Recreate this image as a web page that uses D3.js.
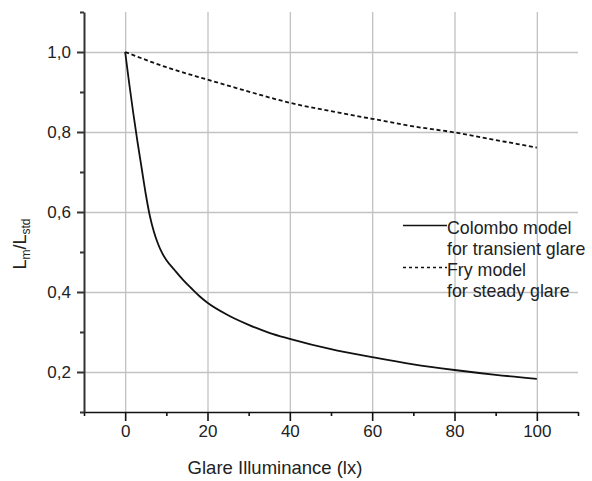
<!DOCTYPE html>
<html>
<head>
<meta charset="utf-8">
<script src="https://cdn.jsdelivr.net/npm/d3@7.9.0/dist/d3.min.js"></script>
<style>
  body { margin: 0; background: #fff; }
  text { font-family: "Liberation Sans", Arial, sans-serif; fill: #222; }
</style>
</head>
<body>
<svg id="chart" width="592" height="481"></svg>
<script>
// glare illuminance (lx)
const colomboX = [0, 1, 2, 3, 4, 5, 6, 7, 8, 9, 10, 12, 14, 16, 18, 20, 25, 30, 35, 40, 50, 60, 70, 80, 90, 100];
const colomboY = [1.0, 0.92, 0.845, 0.775, 0.71, 0.645, 0.59, 0.55, 0.52, 0.497, 0.48, 0.455, 0.431, 0.41, 0.39, 0.373,
                  0.342, 0.318, 0.298, 0.283, 0.257, 0.237, 0.219, 0.205, 0.193, 0.183];

const fryX = [0, 10, 20, 30, 40, 50, 60, 70, 80, 90, 100];
const fryY = [1.0, 0.962, 0.931, 0.901, 0.873, 0.852, 0.833, 0.814, 0.799, 0.78, 0.761];

const xMajorTicks = [0, 20, 40, 60, 80, 100];
const xMinorTicks = [-10, 10, 30, 50, 70, 90, 110];
const yMajorTicks = [0.2, 0.4, 0.6, 0.8, 1.0];
const yMinorTicks = [0.1, 0.3, 0.5, 0.7, 0.9, 1.1];

const legendLabels = [
  ["Colombo model", "for transient glare"],
  ["Fry model", "for steady glare"]
];

const svg = d3.select("#chart"),
      width = +svg.attr("width"),
      height = +svg.attr("height"),
      margin = { top: 12, right: 14, bottom: 69, left: 84 },
      innerWidth = width - margin.left - margin.right,
      innerHeight = height - margin.top - margin.bottom;

const chart = svg.append("g")
    .attr("transform", `translate(${margin.left},${margin.top})`);

const xScale = d3.scaleLinear().domain([-10, 110]).range([0, innerWidth]);
const yScale = d3.scaleLinear().domain([0.1, 1.1]).range([innerHeight, 0]);

const commaFormat = d3.formatLocale({ decimal: ",", thousands: ".", grouping: [3], currency: ["", ""] }).format(".1f");

// grid lines from the axis generators, ticks stretched across the plot
chart.append("g")
    .attr("class", "grid")
    .attr("transform", `translate(0,${innerHeight})`)
    .call(d3.axisBottom(xScale).tickValues(xMajorTicks).tickSize(-innerHeight).tickFormat(""))
    .call(g => g.select(".domain").remove())
    .call(g => g.selectAll("line").attr("stroke", "#c2c2c2").attr("stroke-width", 1.3));

chart.append("g")
    .attr("class", "grid")
    .call(d3.axisLeft(yScale).tickValues(yMajorTicks).tickSize(-innerWidth).tickFormat(""))
    .call(g => g.select(".domain").remove())
    .call(g => g.selectAll("line").attr("stroke", "#c2c2c2").attr("stroke-width", 1.3));

// axes
const xAxis = chart.append("g")
    .attr("transform", `translate(0,${innerHeight})`)
    .call(d3.axisBottom(xScale).tickValues(xMajorTicks).tickSize(9).tickPadding(4).tickSizeOuter(0));
xAxis.append("g").call(d3.axisBottom(xScale).tickValues(xMinorTicks).tickSize(4).tickFormat(""))
    .call(g => g.select(".domain").remove())
    .call(g => g.selectAll("text").remove());

const yAxis = chart.append("g")
    .call(d3.axisLeft(yScale).tickValues(yMajorTicks).tickSize(7).tickPadding(6).tickSizeOuter(0).tickFormat(commaFormat));
yAxis.append("g").call(d3.axisLeft(yScale).tickValues(yMinorTicks).tickSize(4).tickFormat(""))
    .call(g => g.select(".domain").remove())
    .call(g => g.selectAll("text").remove());

xAxis.selectAll("path, line").attr("stroke", "#111").attr("stroke-width", 1.6);
yAxis.selectAll("path, line").attr("stroke", "#333").attr("stroke-width", 2);
xAxis.selectAll("text").attr("font-size", 17).attr("fill", "#222").style("font-family", "Liberation Sans, Arial, sans-serif");
yAxis.selectAll("text").attr("font-size", 17).attr("fill", "#222").style("font-family", "Liberation Sans, Arial, sans-serif");

// lines
const colomboData = colomboX.map((x, i) => ({ x, y: colomboY[i] }));
const fryData = fryX.map((x, i) => ({ x, y: fryY[i] }));

const line = d3.line()
    .x(d => xScale(d.x))
    .y(d => yScale(d.y))
    .curve(d3.curveMonotoneX);

chart.append("path")
    .datum(fryData)
    .attr("fill", "none")
    .attr("stroke", "#111")
    .attr("stroke-width", 1.8)
    .attr("stroke-dasharray", "4,2.7")
    .attr("d", line);

chart.append("path")
    .datum(colomboData)
    .attr("fill", "none")
    .attr("stroke", "#111")
    .attr("stroke-width", 1.8)
    .attr("d", line);

// labels
svg.append("text")
    .attr("x", 275)
    .attr("y", 474)
    .attr("text-anchor", "middle")
    .attr("font-size", 18.5)
    .text("Glare Illuminance (lx)");

const yLabel = svg.append("text")
    .attr("transform", "translate(26,244) rotate(-90)")
    .attr("text-anchor", "middle")
    .attr("font-size", 18);
yLabel.append("tspan").text("L");
yLabel.append("tspan").attr("font-size", 12).attr("dy", 4).text("m");
yLabel.append("tspan").attr("dy", -4).text("/L");
yLabel.append("tspan").attr("font-size", 12).attr("dy", 4).text("std");

// legend
const legend = svg.append("g").attr("transform", "translate(403,233.5)");
legendLabels.forEach((lines, i) => {
  const g = legend.append("g").attr("transform", `translate(0,${i * 42})`);
  g.append("line")
      .attr("x1", 0).attr("x2", 44)
      .attr("y1", -8).attr("y2", -8)
      .attr("stroke", "#111")
      .attr("stroke-width", 1.6)
      .attr("stroke-dasharray", i === 1 ? "3,3" : null);
  lines.forEach((t, j) => {
    g.append("text")
        .attr("x", 44)
        .attr("y", j * 21)
        .attr("font-size", 17.8)
        .text(t);
  });
});
</script>
</body>
</html>
